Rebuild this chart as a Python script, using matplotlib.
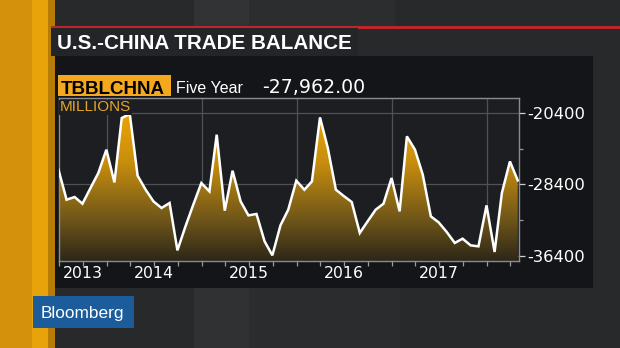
import numpy as np
import pandas as pd
import matplotlib
matplotlib.use('Agg')
import matplotlib.pyplot as plt
import matplotlib.dates as mdates
import matplotlib.transforms as mtransforms
from matplotlib.colors import LinearSegmentedColormap
from matplotlib.patches import Rectangle

# ---------------- data ----------------
dates = pd.date_range('2013-06-30', periods=59, freq='ME')
values = [-26760, -30120, -29820, -30570, -28810, -27130, -24510, -28180, -20960, -20510,
          -27430, -29000, -30310, -31050, -30490, -35800, -33110, -30680, -28250, -29190,
          -22830, -31350, -26870, -30310, -31880, -31720, -34790, -36360, -33000, -31240,
          -27990, -29000, -28070, -20890, -24320, -29000, -29700, -30380, -33850, -32550,
          -31240, -30570, -27690, -31430, -23020, -24510, -27320, -31990, -32660, -33740,
          -34970, -34490, -35240, -35350, -30760, -35980, -29370, -25830, -27962]
year_labels = ['2013', '2014', '2015', '2016', '2017']
year_label_dates = ['2013-10-01', '2014-07-01', '2015-07-01', '2016-07-01', '2017-07-01']
ytick_values = [-36400, -28400, -20400]
yminor_values = [-32400, -24400]
title = 'U.S.-CHINA TRADE BALANCE'
ticker = 'TBBLCHNA'
period = 'Five Year'
last_value = '-27,962.00'
units = 'MILLIONS'
brand = 'Bloomberg'

W, H = 620, 348
fig = plt.figure(figsize=(6.2, 3.48), dpi=100)
fig.patch.set_facecolor('#28292b')


def rect(x0, y0, x1, y1, color, z=-5):
    fig.patches.append(Rectangle((x0 / W, 1 - y1 / H), (x1 - x0) / W, (y1 - y0) / H,
                                 transform=fig.transFigure, facecolor=color,
                                 edgecolor='none', zorder=z))


def ftext(x, y, s, **kw):
    fig.text(x / W, 1 - y / H, s, **kw)


# background decoration
rect(194, 0, 249, 27, '#323335')
rect(249, 0, 395, 27, '#2c2d2f')
rect(194, 288, 249, 348, '#303133')
rect(249, 288, 400, 348, '#2b2c2e')
rect(0, 0, 55, 348, '#d4920c')
rect(32, 0, 48, 348, '#e8a30a')
rect(48, 0, 55, 348, '#b67c06')
rect(51, 26, 620, 28.5, '#bd272b')
rect(51, 28.5, 358, 56, '#242528')
rect(55, 56, 593, 288, '#141518')
rect(57.5, 75, 171, 96, '#f3a81e')
rect(33, 296, 134, 328, '#1c5c9b')

ftext(57, 49, title, color='white', fontsize=14.9, fontweight='bold',
      family='Liberation Sans', va='baseline')
ftext(60.5, 93.5, ticker, color='black', fontsize=13.5, fontweight='bold',
      family='Liberation Sans', va='baseline')
ftext(175.5, 93.3, period, color='white', fontsize=11.5,
      family='Liberation Sans', va='baseline')
ftext(262, 93.3, last_value, color='white', fontsize=13.6,
      family='DejaVu Sans', va='baseline')
ftext(41, 318, brand, color='white', fontsize=12.4,
      family='Liberation Sans', va='baseline')

# ---------------- chart ----------------
ax = fig.add_axes([58.5 / W, 1 - 260.7 / H, (519.3 - 58.5) / W, (260.7 - 97.7) / H])
ax.set_zorder(1)
ax.set_facecolor('#1d1e21')
ymin, ymax = -36960, -18685
ax.plot(dates, values, color='white', lw=1.8, zorder=3, solid_joinstyle='miter')
x0 = mdates.date2num(dates[0])
x1 = mdates.date2num(dates[-1] + pd.Timedelta(days=6))
ax.set_xlim(x0, x1)
ax.set_ylim(ymin, ymax)

poly = ax.fill_between(dates, values, ymin, facecolor='none', edgecolor='none')
cmap = LinearSegmentedColormap.from_list('g', [(0.0, '#2d2718'), (0.25, '#6e5519'),
                                               (0.6, '#c68d0e'), (1.0, '#f8ab00')])
grad = np.linspace(0, 1, 256)[:, None]
im = ax.imshow(grad, origin='lower', extent=[x0, x1, ymin, ymax], aspect='auto',
               cmap=cmap, zorder=2, interpolation='bicubic')
im.set_clip_path(poly.get_paths()[0], transform=ax.transData)
ax.set_xlim(x0, x1)
ax.set_ylim(ymin, ymax)

ax.xaxis.set_major_locator(mdates.YearLocator())
ax.xaxis.set_minor_locator(mdates.MonthLocator(bymonth=[4, 7, 10]))
ax.xaxis.set_major_formatter(plt.NullFormatter())
ax.set_yticks(ytick_values)
ax.set_yticks(yminor_values, minor=True)
ax.set_yticklabels([str(v) for v in ytick_values], family='DejaVu Sans', fontsize=11.8,
                   color='white')
ax.yaxis.tick_right()
ax.grid(True, which='major', color='#505155', lw=0.9)
ax.set_axisbelow(True)
ax.tick_params(axis='x', which='both', direction='out', length=3.5, width=0.9,
               color='#9a9a9a')
ax.tick_params(axis='y', which='major', direction='out', length=4.3, width=0.9,
               color='#cfcfcf', pad=1.5)
ax.tick_params(axis='y', which='minor', direction='out', length=3, width=0.9,
               color='#9a9a9a')
for sp in ax.spines.values():
    sp.set_color('#8c8c8c')
    sp.set_linewidth(1.0)

tr = mtransforms.blended_transform_factory(ax.transData, fig.transFigure)
for lab, d in zip(year_labels, year_label_dates):
    ax.text(mdates.date2num(pd.Timestamp(d)), 1 - 278.3 / H, lab, transform=tr,
            ha='center', va='baseline', color='white', fontsize=11.3,
            family='DejaVu Sans', clip_on=False)

ax.text(1.5 / (519.3 - 58.5), 1 - 13.8 / 163, units, transform=ax.transAxes,
        color='#e3a52a', fontsize=11, family='Liberation Sans', va='baseline',
        zorder=4, bbox=dict(facecolor='#1d1e21', edgecolor='none', pad=0.6))

fig.savefig('out.png', dpi=100, facecolor=fig.get_facecolor())
